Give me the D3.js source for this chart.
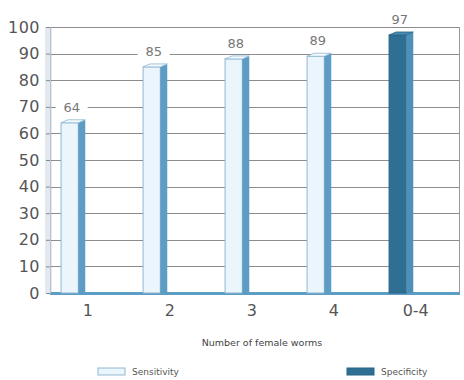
<!DOCTYPE html>
<html>
<head>
<meta charset="utf-8">
<script src="https://cdn.jsdelivr.net/npm/d3@7"></script>
<style>
  body { margin: 0; background: #fff; }
  svg { display: block; }
  text { font-family: "DejaVu Sans", sans-serif; }
</style>
</head>
<body>
<div id="chart"></div>
<script>
(function(d3) {
'use strict';

var categories = ['1', '2', '3', '4', '0-4'];
var sensitivity = [64, 85, 88, 89, null];
var specificity = [null, null, null, null, 97];
var yTicks = [0, 10, 20, 30, 40, 50, 60, 70, 80, 90, 100];
var seriesNames = ['Sensitivity', 'Specificity'];

var width = 464, height = 380;
var margin = {left: 50, right: 4, top: 27, bottom: 87};

var svg = d3.select('#chart')
  .append('svg')
  .attr('width', width)
  .attr('height', height);

var x = d3.scaleBand()
  .domain(categories)
  .range([margin.left, width - margin.right])
  .padding(0);

var y = d3.scaleLinear()
  .domain([0, 100])
  .range([height - margin.bottom, margin.top]);

var bw = x.bandwidth();
var frontX = function(c) { return x(c) + bw * 0.135; };
var frontW = bw * 0.21;
var sideW = bw * 0.085;

// left wall
svg.append('rect')
  .attr('x', margin.left - 5)
  .attr('y', y(100))
  .attr('width', 7)
  .attr('height', y(0) - y(100))
  .attr('fill', '#e3e9ee');

// gridlines
svg.append('g')
  .selectAll('line')
  .data(yTicks.filter(function(d) { return d > 0; }))
  .enter()
  .append('line')
  .attr('x1', margin.left)
  .attr('x2', width - margin.right)
  .attr('y1', function(d) { return Math.round(y(d)) + 0.5; })
  .attr('y2', function(d) { return Math.round(y(d)) + 0.5; })
  .attr('stroke', '#8c8c8c')
  .attr('stroke-width', 1);

// right border
svg.append('line')
  .attr('x1', width - margin.right - 0.5)
  .attr('x2', width - margin.right - 0.5)
  .attr('y1', y(100))
  .attr('y2', y(0))
  .attr('stroke', '#9a9a9a');

// floor
svg.append('rect')
  .attr('x', margin.left)
  .attr('y', y(0) - 1)
  .attr('width', width - margin.right - margin.left)
  .attr('height', 3)
  .attr('fill', '#5d9cc4');

// y axis
var yAxis = d3.axisLeft(y)
  .tickValues(yTicks)
  .tickSize(4)
  .tickPadding(6);

var gy = svg.append('g')
  .attr('transform', 'translate(' + margin.left + ',0)')
  .call(yAxis);
gy.select('.domain').attr('stroke', '#b5c3cf');
gy.selectAll('.tick line').attr('stroke', '#888');
gy.selectAll('.tick text')
  .attr('fill', '#555')
  .style('font-size', '16px')
  .style('letter-spacing', '0.5px');

// x axis
var xAxis = d3.axisBottom(x)
  .tickSize(0)
  .tickPadding(12);

var gx = svg.append('g')
  .attr('transform', 'translate(0,' + y(0) + ')')
  .call(xAxis);
gx.select('.domain').remove();
gx.selectAll('.tick')
  .attr('transform', function(d) { return 'translate(' + (x(d) + bw * 0.46) + ',0)'; });
gx.selectAll('.tick text')
  .attr('fill', '#555')
  .style('font-size', '16px');

// bars
var bars = categories.map(function(c, i) {
  var s = sensitivity[i], p = specificity[i];
  return {cat: c, value: s != null ? s : p, series: s != null ? 0 : 1};
});

var styles = [
  {front: '#eaf5fc', side: '#5d9cc4', top: '#f4fafe', stroke: '#8fb7d2'},
  {front: '#2f6f93', side: '#4f90b8', top: '#4a8ab0', stroke: '#2a6586'}
];

var gb = svg.append('g');
var bar = gb.selectAll('g')
  .data(bars)
  .enter()
  .append('g');

bar.append('rect')
  .attr('x', function(d) { return frontX(d.cat); })
  .attr('y', function(d) { return y(d.value); })
  .attr('width', frontW)
  .attr('height', function(d) { return y(0) - y(d.value); })
  .attr('fill', function(d) { return styles[d.series].front; })
  .attr('stroke', function(d) { return styles[d.series].stroke; })
  .attr('stroke-width', 1);

bar.append('path')
  .attr('d', function(d) {
    var x0 = frontX(d.cat) + frontW, y0 = y(d.value);
    return 'M' + x0 + ',' + y0 + 'L' + (x0 + sideW) + ',' + (y0 - 3) +
      'L' + (x0 + sideW) + ',' + y(0) + 'L' + x0 + ',' + y(0) + 'Z';
  })
  .attr('fill', function(d) { return styles[d.series].side; });

bar.append('path')
  .attr('d', function(d) {
    var x0 = frontX(d.cat), y0 = y(d.value);
    return 'M' + x0 + ',' + y0 + 'L' + (x0 + sideW) + ',' + (y0 - 3) +
      'L' + (x0 + frontW + sideW) + ',' + (y0 - 3) + 'L' + (x0 + frontW) + ',' + y0 + 'Z';
  })
  .attr('fill', function(d) { return styles[d.series].top; })
  .attr('stroke', function(d) { return styles[d.series].stroke; })
  .attr('stroke-width', 0.8);

// value labels
bar.append('rect')
  .attr('x', function(d) { return frontX(d.cat) + frontW / 2 - 14; })
  .attr('y', function(d) { return y(d.value) - 24; })
  .attr('width', 32)
  .attr('height', 16)
  .attr('fill', '#fff');

bar.append('text')
  .attr('x', function(d) { return frontX(d.cat) + frontW / 2 + 2; })
  .attr('y', function(d) { return y(d.value) - 11; })
  .attr('text-anchor', 'middle')
  .attr('fill', '#777')
  .style('font-size', '13px')
  .text(function(d) { return d.value; });

// x title
svg.append('text')
  .attr('x', 262)
  .attr('y', 346)
  .attr('text-anchor', 'middle')
  .attr('fill', '#444')
  .style('font-size', '9.5px')
  .text('Number of female worms');

// legend
var legendX = [98, 347];
var legend = svg.selectAll('.legend')
  .data(seriesNames)
  .enter()
  .append('g')
  .attr('class', 'legend')
  .attr('transform', function(d, i) { return 'translate(' + legendX[i] + ',368)'; });

legend.append('rect')
  .attr('width', 27)
  .attr('height', 7)
  .attr('fill', function(d, i) { return styles[i].front; })
  .attr('stroke', function(d, i) { return styles[i].stroke; });

legend.append('text')
  .attr('x', 34)
  .attr('y', 7)
  .attr('fill', '#555')
  .style('font-size', '9px')
  .text(function(d) { return d; });

})(window.d3);
</script>
</body>
</html>
